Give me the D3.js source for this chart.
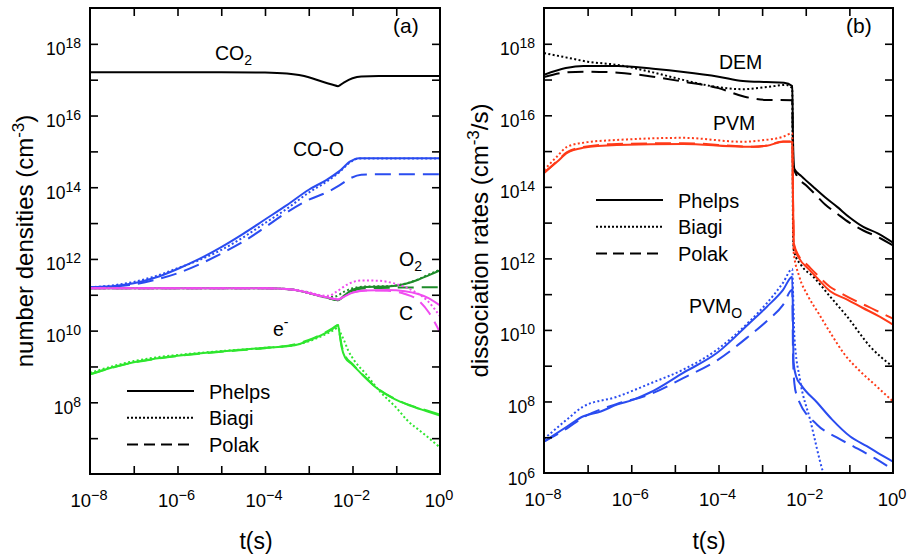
<!DOCTYPE html>
<html>
<head>
<meta charset="utf-8">
<script src="https://cdn.jsdelivr.net/npm/d3@7"></script>
<style>
body { margin: 0; background: #fff; }
svg { font-family: "Liberation Sans", Arial, Helvetica, sans-serif; }
</style>
</head>
<body>
<svg id="chart" width="912" height="555"></svg>
<script>
// every point is [log10 t(s), log10 value]
var xLabelExps = [-8, -6, -4, -2, 0];
var yLabelExpsA = [8, 10, 12, 14, 16, 18];
var yLabelExpsB = [6, 8, 10, 12, 14, 16, 18];
var methods = ["Phelps", "Biagi", "Polak"];

// (a) number densities
var co2 = [[-8,17.21],[-5,17.21],[-4,17.20],[-3.5,17.17],[-3.0,17.07],[-2.7,16.95],[-2.45,16.86],[-2.33,16.82],[-2.2,16.92],[-2.0,17.04],[-1.8,17.09],[-1.4,17.10],[0,17.10]];

var coPhelps = [[-8,11.21],[-7.5,11.24],[-7,11.32],[-6.5,11.48],[-6,11.72],[-5.5,12.0],[-5,12.33],[-4.5,12.7],[-4,13.1],[-3.5,13.5],[-3,13.93],[-2.6,14.2],[-2.3,14.45],[-2.05,14.72],[-1.85,14.81],[0,14.81]];
var coBiagi = [[-8,11.21],[-7.5,11.26],[-7,11.36],[-6.5,11.52],[-6,11.74],[-5.5,11.97],[-5,12.25],[-4.5,12.6],[-4,13.0],[-3.5,13.4],[-3,13.85],[-2.6,14.15],[-2.3,14.42],[-2.05,14.7],[-1.85,14.8],[0,14.8]];
var coPolak = [[-8,11.21],[-7.5,11.23],[-7,11.29],[-6.5,11.42],[-6,11.6],[-5.5,11.85],[-5,12.15],[-4.5,12.48],[-4,12.88],[-3.5,13.3],[-3,13.65],[-2.6,13.85],[-2.3,14.05],[-2.05,14.25],[-1.8,14.35],[-1.5,14.36],[0,14.36]];

var o2Phelps = [[-8,11.18],[-4,11.18],[-3.4,11.15],[-3,11.05],[-2.6,10.92],[-2.33,10.85],[-2.2,10.97],[-2.0,11.14],[-1.7,11.22],[-1.2,11.23],[-0.8,11.3],[-0.5,11.42],[-0.25,11.55],[0,11.68]];
var o2Biagi = [[-8,11.18],[-4,11.18],[-3.4,11.15],[-3,11.05],[-2.6,10.93],[-2.4,10.95],[-2.2,11.08],[-2.0,11.18],[-1.7,11.23],[-1.2,11.24],[-0.8,11.31],[-0.5,11.43],[-0.25,11.57],[0,11.7]];
var o2Polak = [[-8,11.18],[-4,11.18],[-3.4,11.15],[-3,11.05],[-2.6,10.92],[-2.33,10.85],[-2.2,10.95],[-2.0,11.1],[-1.7,11.18],[-1.0,11.2],[0,11.21]];

var cPhelps = [[-8,11.18],[-4,11.18],[-3.4,11.15],[-3,11.05],[-2.6,10.93],[-2.33,10.87],[-2.2,10.94],[-2.0,11.06],[-1.7,11.12],[-1.2,11.13],[-0.8,11.1],[-0.5,11.02],[-0.25,10.9],[0,10.70]];
var cBiagi = [[-8,11.18],[-4,11.18],[-3.4,11.15],[-3,11.07],[-2.7,10.98],[-2.55,10.97],[-2.35,11.1],[-2.1,11.3],[-1.8,11.4],[-1.4,11.39],[-1,11.3],[-0.6,11.1],[-0.3,10.85],[0,10.40]];
var cPolak = [[-8,11.18],[-4,11.18],[-3.4,11.15],[-3,11.05],[-2.6,10.93],[-2.33,10.87],[-2.2,10.94],[-2.0,11.06],[-1.7,11.12],[-1.2,11.11],[-0.8,11.02],[-0.5,10.85],[-0.25,10.5],[0,9.95]];

var ePhelps = [[-8,8.78],[-7.5,8.97],[-7,9.12],[-6.5,9.22],[-6,9.30],[-5,9.42],[-4,9.52],[-3.3,9.6],[-3,9.72],[-2.7,9.88],[-2.45,10.05],[-2.33,10.15],[-2.3,9.95],[-2.25,9.55],[-2.17,9.25],[-2.0,9.05],[-1.76,8.75],[-1.44,8.39],[-1.07,8.11],[-0.69,7.91],[-0.3,7.75],[0,7.63]];
var eBiagi = [[-8,8.82],[-7.5,9.0],[-7,9.15],[-6.5,9.25],[-6,9.32],[-5,9.43],[-4,9.52],[-3.3,9.6],[-3,9.7],[-2.7,9.85],[-2.45,10.0],[-2.33,10.08],[-2.28,9.95],[-2.2,9.75],[-2.1,9.45],[-1.95,9.15],[-1.7,8.8],[-1.37,8.3],[-1.0,7.85],[-0.75,7.5],[-0.4,7.15],[0,6.74]];
var ePolak = [[-8,8.78],[-7.5,8.96],[-7,9.11],[-6.5,9.21],[-6,9.29],[-5,9.41],[-4,9.51],[-3.3,9.62],[-3,9.74],[-2.7,9.9],[-2.45,10.07],[-2.33,10.16],[-2.3,9.95],[-2.25,9.6],[-2.17,9.3],[-2.0,9.07],[-1.76,8.76],[-1.44,8.4],[-1.07,8.12],[-0.69,7.92],[-0.3,7.77],[0,7.66]];

// (b) dissociation rates
var demPhelps = [[-8,17.13],[-7.5,17.32],[-7.1,17.38],[-6.3,17.38],[-5.5,17.3],[-4.8,17.21],[-4,17.08],[-3.44,16.96],[-2.9,16.93],[-2.5,16.91],[-2.31,16.82],[-2.29,15.2],[-2.26,14.5],[-2.1,14.3],[-1.83,14.0],[-1.55,13.7],[-1.28,13.44],[-1.0,13.15],[-0.68,12.88],[-0.35,12.7],[0,12.44]];
var demBiagi = [[-8,17.74],[-7.5,17.62],[-7,17.5],[-6.33,17.41],[-5.5,17.2],[-4.81,16.99],[-4.03,16.79],[-3.44,16.73],[-2.89,16.79],[-2.45,16.85],[-2.31,16.76],[-2.29,12.6],[-2.27,12.2],[-2.1,11.8],[-1.83,11.49],[-1.44,10.93],[-1.05,10.37],[-0.52,9.53],[0,8.97]];
var demPolak = [[-8,17.07],[-7.5,17.2],[-7,17.22],[-6.3,17.19],[-5.5,17.08],[-4.8,16.94],[-4.0,16.76],[-3.4,16.52],[-2.9,16.43],[-2.31,16.42],[-2.29,14.6],[-2.2,14.3],[-2.0,14.05],[-1.83,13.85],[-1.55,13.5],[-1.28,13.25],[-1.0,13.0],[-0.68,12.78],[-0.35,12.6],[0,12.36]];

var pvmPhelps = [[-8,14.39],[-7.7,14.7],[-7.47,14.95],[-7.11,15.09],[-6.33,15.17],[-4.81,15.2],[-3.44,15.12],[-3.2,15.12],[-2.89,15.15],[-2.52,15.26],[-2.31,15.26],[-2.29,13.5],[-2.27,12.35],[-2.15,12.0],[-1.95,11.72],[-1.74,11.45],[-1.44,11.08],[-1.05,10.85],[-0.7,10.62],[-0.35,10.4],[0,10.15]];
var pvmBiagi = [[-8,14.47],[-7.7,14.85],[-7.47,15.12],[-7,15.25],[-6.33,15.31],[-4.81,15.37],[-3.44,15.26],[-3.0,15.3],[-2.52,15.4],[-2.31,15.5],[-2.29,13.0],[-2.28,12.2],[-2.15,11.5],[-1.95,10.95],[-1.7,10.45],[-1.4,9.85],[-1.1,9.3],[-0.8,8.9],[-0.4,8.45],[0,8.0]];
var pvmPolak = [[-8,14.39],[-7.7,14.72],[-7.47,14.97],[-7.11,15.11],[-6.33,15.2],[-4.81,15.22],[-3.44,15.13],[-3.2,15.12],[-2.89,15.16],[-2.52,15.27],[-2.31,15.27],[-2.29,13.5],[-2.27,12.4],[-2.15,12.05],[-1.95,11.8],[-1.74,11.54],[-1.44,11.2],[-1.21,11.04],[-0.82,10.79],[-0.57,10.65],[-0.18,10.42],[0,10.32]];

var pvmoPhelps = [[-8,6.88],[-7.47,7.3],[-7.11,7.58],[-6.7,7.72],[-6.33,7.91],[-5.95,8.05],[-5.57,8.25],[-4.81,8.8],[-4.03,9.36],[-3.28,10.2],[-2.89,10.65],[-2.52,11.12],[-2.31,11.49],[-2.29,10.0],[-2.28,9.1],[-2.22,8.7],[-2.1,8.45],[-1.74,7.97],[-1.4,7.5],[-0.98,7.02],[-0.6,6.75],[-0.36,6.57],[0,6.32]];
var pvmoBiagi = [[-8,6.95],[-7.47,7.5],[-7.11,7.85],[-6.33,8.13],[-5.57,8.5],[-4.81,8.89],[-4.03,9.45],[-3.28,10.25],[-2.89,10.75],[-2.52,11.32],[-2.31,11.7],[-2.29,11.0],[-2.26,9.8],[-2.13,8.6],[-1.9,7.49],[-1.6,6.01],[-1.45,5.5]];
var pvmoPolak = [[-8,6.88],[-7.47,7.25],[-7.11,7.55],[-6.33,7.93],[-5.57,8.2],[-4.81,8.65],[-4.03,9.15],[-3.28,9.85],[-2.89,10.25],[-2.52,10.7],[-2.31,11.12],[-2.29,9.2],[-2.26,8.5],[-2.2,8.15],[-1.74,7.35],[-1.3,7.0],[-0.9,6.74],[-0.4,6.4],[0,6.09]];

var dash = { Phelps: null, Biagi: "2,2.4", Polak: "16,8" };
var legendDash = { Phelps: null, Biagi: "2,2", Polak: "11,6" };
var black = "#000", blue = "#2a4cf0", magenta = "#f04cf0", darkGreen = "#1e8c2a", green = "#2ee62e", red = "#ff3a18";

var svg = d3.select("#chart");

function panel(p) {
    var x = d3.scaleLog().domain([1e-8, 1]).range([p.left, p.right]);
    var y = d3.scaleLog().domain([1e6, 1e19]).range([p.bottom, p.top]);
    var g = svg.append("g");

    g.append("clipPath").attr("id", "clip-" + p.id)
        .append("rect")
        .attr("x", p.left).attr("y", p.top)
        .attr("width", p.right - p.left).attr("height", p.bottom - p.top);

    var line = d3.line()
        .x(function(d) { return x(Math.pow(10, d[0])); })
        .y(function(d) { return y(Math.pow(10, d[1])); })
        .curve(d3.curveMonotoneX);

    var curves = g.append("g").attr("clip-path", "url(#clip-" + p.id + ")");
    p.series.forEach(function(s) {
        curves.append("path")
            .attr("d", line(s.data))
            .attr("fill", "none")
            .attr("stroke", s.color)
            .attr("stroke-width", 2)
            .attr("stroke-dasharray", dash[s.method]);
    });

    // inward ticks on all four sides
    var xt = d3.range(-7, 0).map(function(e) { return Math.pow(10, e); });
    var yt = d3.range(7, 19).map(function(e) { return Math.pow(10, e); });
    function ticks(axis, tr) {
        var a = g.append("g").attr("transform", tr)
            .call(axis.tickSizeInner(-8).tickSizeOuter(0).tickFormat(""));
        a.select(".domain").remove();
        a.selectAll("line").attr("stroke", "#000").attr("stroke-width", 1.6);
    }
    ticks(d3.axisBottom(x).tickValues(xt), "translate(0," + p.bottom + ")");
    ticks(d3.axisTop(x).tickValues(xt), "translate(0," + p.top + ")");
    ticks(d3.axisLeft(y).tickValues(yt), "translate(" + p.left + ",0)");
    ticks(d3.axisRight(y).tickValues(yt), "translate(" + p.right + ",0)");

    g.append("rect")
        .attr("x", p.left).attr("y", p.top)
        .attr("width", p.right - p.left).attr("height", p.bottom - p.top)
        .attr("fill", "none").attr("stroke", "#000").attr("stroke-width", 2);

    // tick labels
    xLabelExps.forEach(function(e) {
        var t = g.append("text")
            .attr("x", x(Math.pow(10, e)) - 1).attr("y", p.bottom + 33)
            .attr("text-anchor", "middle").attr("font-size", 18.5);
        t.append("tspan").text("10");
        t.append("tspan").attr("dy", -7).attr("font-size", 14.5).text(e < 0 ? "\u2212" + (-e) : e);
    });
    p.yLabels.forEach(function(e) {
        var t = g.append("text")
            .attr("x", p.left - 9).attr("y", y(Math.pow(10, e)) + 11.5)
            .attr("text-anchor", "end").attr("font-size", 17.5);
        t.append("tspan").text("10");
        t.append("tspan").attr("dy", -7).attr("font-size", 14).text(e);
    });

    // axis titles
    g.append("text")
        .attr("x", p.xTitleX).attr("y", 549)
        .attr("text-anchor", "middle").attr("font-size", 23)
        .text("t(s)");
    var yt2 = g.append("text")
        .attr("transform", "translate(" + p.yTitleX + "," + (p.top + p.bottom) / 2 + ") rotate(-90)")
        .attr("text-anchor", "middle").attr("font-size", 24);
    yt2.append("tspan").text(p.yTitle[0]);
    yt2.append("tspan").attr("dy", -9).attr("font-size", 17).text("-3");
    yt2.append("tspan").attr("dy", 9).text(p.yTitle[1]);

    g.append("text")
        .attr("x", p.right - 47).attr("y", 33)
        .attr("font-size", 21).text(p.tag);

    // legend
    methods.forEach(function(m, i) {
        var ly = p.legendY + i * 26.7;
        g.append("line")
            .attr("x1", p.legendX).attr("x2", p.legendX + 67)
            .attr("y1", ly).attr("y2", ly)
            .attr("stroke", "#000").attr("stroke-width", 2)
            .attr("stroke-dasharray", legendDash[m]);
        g.append("text")
            .attr("x", p.legendX + 82).attr("y", ly + 7.5)
            .attr("font-size", 20).text(m);
    });

    // curve labels
    p.labels.forEach(function(l) {
        var t = g.append("text").attr("x", l.x).attr("y", l.y).attr("font-size", l.size || 19.5);
        t.append("tspan").text(l.text);
        if (l.sub) t.append("tspan").attr("dy", 5).attr("font-size", 14).text(l.sub);
        if (l.sup) t.append("tspan").attr("dy", -9).attr("font-size", 14).text(l.sup);
    });
}

function trio(a, b, c, color) {
    return [
        { data: c, color: color, method: "Polak" },
        { data: b, color: color, method: "Biagi" },
        { data: a, color: color, method: "Phelps" }
    ];
}

panel({
    id: "a", left: 90, right: 440, top: 8, bottom: 474,
    yLabels: yLabelExpsA, xTitleX: 256, yTitleX: 33,
    yTitle: ["number densities (cm", ")"], tag: "(a)",
    legendX: 127, legendY: 391,
    series: [{ data: co2, color: black, method: "Phelps" }]
        .concat(trio(coPhelps, coBiagi, coPolak, blue))
        .concat(trio(o2Phelps, o2Biagi, o2Polak, darkGreen))
        .concat(trio(cPhelps, cBiagi, cPolak, magenta))
        .concat(trio(ePhelps, eBiagi, ePolak, green)),
    labels: [
        { text: "CO", sub: "2", x: 215, y: 60 },
        { text: "CO-O", x: 293, y: 156 },
        { text: "O", sub: "2", x: 399, y: 266 },
        { text: "C", x: 399, y: 320 },
        { text: "e", sup: "-", x: 273, y: 336 }
    ]
});

panel({
    id: "b", left: 544, right: 893, top: 8, bottom: 473,
    yLabels: yLabelExpsB, xTitleX: 709, yTitleX: 488,
    yTitle: ["dissociation rates (cm", "/s)"], tag: "(b)",
    legendX: 596, legendY: 200,
    series: trio(demPhelps, demBiagi, demPolak, black)
        .concat(trio(pvmPhelps, pvmBiagi, pvmPolak, red))
        .concat(trio(pvmoPhelps, pvmoBiagi, pvmoPolak, blue)),
    labels: [
        { text: "DEM", x: 719, y: 69 },
        { text: "PVM", x: 713, y: 130 },
        { text: "PVM", sub: "O", x: 689, y: 313 }
    ]
});
</script>
</body>
</html>
